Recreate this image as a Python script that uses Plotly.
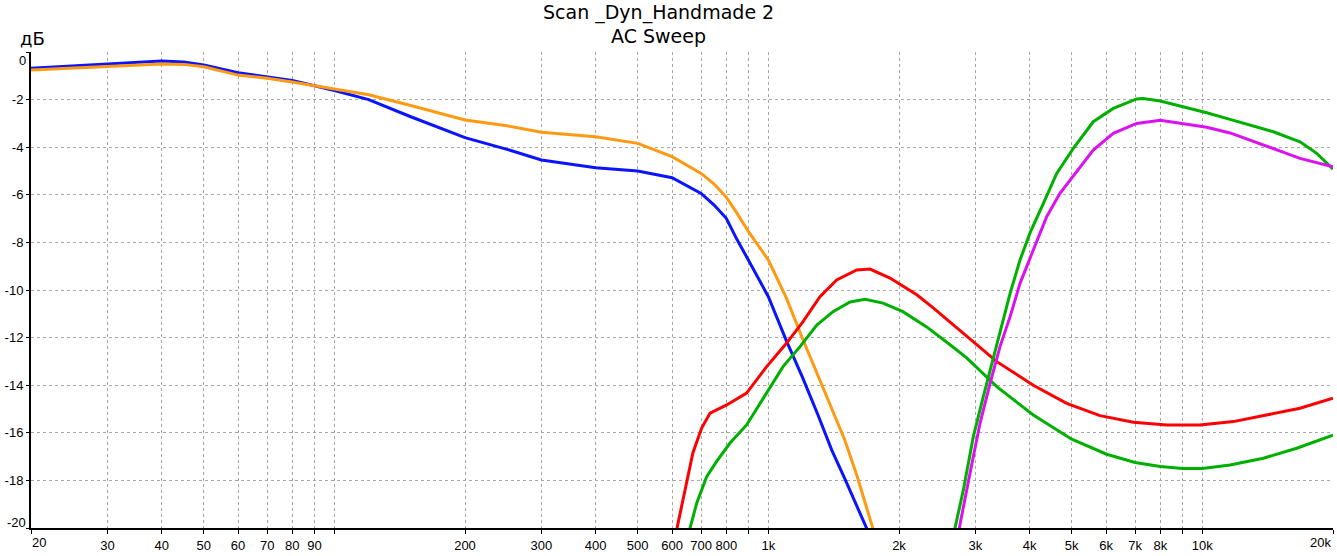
import plotly.graph_objects as go

# ---- data (frequency in Hz, level in dB) ----
low_freq = [20, 25, 30, 35, 40, 45, 50, 60, 70, 80, 90, 100, 120, 150, 200, 250, 300, 400, 500,
            600, 700, 750, 800, 845, 900, 1000, 1100, 1200, 1300, 1400, 1500, 1600, 1700, 1760]
blue_db = [-0.68, -0.58, -0.50, -0.42, -0.38, -0.42, -0.55, -0.87, -1.04, -1.20, -1.42, -1.62, -2.00,
           -2.72, -3.60, -4.09, -4.54, -4.86, -5.00, -5.28, -5.94, -6.43, -6.99, -7.85, -8.75, -10.28,
           -12.13, -13.69, -15.23, -16.73, -17.93, -19.07, -20.16, -20.8]
orange_db = [-0.76, -0.68, -0.60, -0.53, -0.50, -0.52, -0.62, -0.97, -1.10, -1.26, -1.42, -1.55, -1.80,
             -2.25, -2.86, -3.10, -3.37, -3.56, -3.84, -4.40, -5.10, -5.55, -6.10, -6.75, -7.55, -8.74,
             -10.33, -12.06, -13.56, -14.97, -16.30, -17.80, -19.40, -20.3]

red_freq = [600, 615, 636, 670, 702, 734, 802, 891, 991, 1102, 1202, 1315, 1437, 1598, 1715, 1907,
            2198, 2398, 2622, 2864, 3360, 4078, 4868, 5810, 6934, 8278, 9878, 11786, 14072, 16790, 20000]
red_db = [-21.0, -20.0, -18.8, -16.85, -15.8, -15.17, -14.83, -14.33, -13.22, -12.23, -11.33, -10.28,
          -9.58, -9.16, -9.12, -9.50, -10.20, -10.75, -11.35, -11.96, -13.01, -14.00, -14.76, -15.28,
          -15.56, -15.67, -15.67, -15.53, -15.25, -14.97, -14.55]

gmid_freq = [650, 660, 684, 721, 760, 816, 891, 991, 1081, 1183, 1293, 1409, 1543, 1670, 1837, 2042,
             2316, 2622, 2864, 3360, 4078, 5000, 6018, 7000, 8000, 9000, 10000, 11582, 13818, 16498, 20000]
gmid_db = [-20.6, -20.0, -18.95, -17.84, -17.2, -16.43, -15.67, -14.33, -13.22, -12.38, -11.47, -10.91,
           -10.50, -10.39, -10.55, -10.91, -11.55, -12.30, -12.85, -14.06, -15.25, -16.27, -16.90,
           -17.25, -17.42, -17.50, -17.50, -17.35, -17.07, -16.65, -16.10]

ghigh_freq = [2650, 2692, 2814, 2967, 3128, 3300, 3450, 3606, 3801, 4008, 4302, 4617, 5043, 5606, 6234,
              7058, 7300, 8000, 9022, 10234, 11582, 14572, 16790, 18348, 20000]
ghigh_db = [-21.0, -20.0, -18.4, -16.16, -14.48, -12.8, -11.4, -10.14, -8.74, -7.6, -6.36, -5.1, -4.05,
            -2.93, -2.37, -1.97, -1.95, -2.06, -2.30, -2.55, -2.83, -3.35, -3.77, -4.26, -4.92]

mag_freq = [2710, 2754, 2915, 3074, 3242, 3418, 3606, 3801, 4078, 4378, 4698, 5043, 5606, 6234, 7058,
            8000, 9030, 10234, 11582, 14572, 16790, 20000]
mag_db = [-21.0, -20.0, -17.7, -15.6, -13.92, -12.38, -11.12, -9.72, -8.32, -6.92, -5.94, -5.2, -4.12,
          -3.42, -3.0, -2.87, -3.0, -3.16, -3.4, -4.08, -4.47, -4.82]

x_tickvals = [20, 30, 40, 50, 60, 70, 80, 90, 100, 200, 300, 400, 500, 600, 700, 800, 900,
              1000, 2000, 3000, 4000, 5000, 6000, 7000, 8000, 9000, 10000, 20000]
x_ticktext = ["", "30", "40", "50", "60", "70", "80", "90", "", "200", "300", "400", "500", "600",
              "700", "800", "", "1k", "2k", "3k", "4k", "5k", "6k", "7k", "8k", "", "10k", ""]
x_first_label = "20"
x_last_label = "20k"
y_tickvals = [0, -2, -4, -6, -8, -10, -12, -14, -16, -18, -20]
y_ticktext = ["", "-2", "-4", "-6", "-8", "-10", "-12", "-14", "-16", "-18", ""]
y_top_label = "0"
y_bottom_label = "-20"

title_line1 = "Scan _Dyn_Handmade 2"
title_line2 = "AC Sweep"
y_unit = "дБ"

series = [
    (low_freq, blue_db, "#0A14FF"),
    (low_freq, orange_db, "#FF9912"),
    (red_freq, red_db, "#FF0000"),
    (gmid_freq, gmid_db, "#00B000"),
    (ghigh_freq, ghigh_db, "#00B000"),
    (mag_freq, mag_db, "#DC10F0"),
]

fig = go.Figure()
for fx, fy, col in series:
    fig.add_trace(go.Scatter(x=fx, y=fy, mode="lines", line=dict(color=col, width=3),
                             showlegend=False, hoverinfo="skip"))

FONT = "Liberation Sans"
TFONT = "DejaVu Sans"
fig.update_layout(
    width=1337, height=556,
    margin=dict(l=31, r=4, t=52, b=28),
    paper_bgcolor="white", plot_bgcolor="white",
    font=dict(family=FONT, size=13, color="black"),
    showlegend=False,
)
fig.update_xaxes(
    type="log", range=[1.30103, 4.30103],
    tickmode="array", tickvals=x_tickvals, ticktext=x_ticktext,
    showgrid=True, gridcolor="#A8A8A8", gridwidth=1, griddash="3px,3px",
    showline=True, linecolor="black", linewidth=2,
    ticks="outside", ticklen=4, tickcolor="black", tickwidth=1,
    tickfont=dict(family=FONT, size=13), zeroline=False,
)
fig.update_yaxes(
    range=[-20, 0],
    tickmode="array", tickvals=y_tickvals, ticktext=y_ticktext,
    showgrid=True, gridcolor="#A8A8A8", gridwidth=1, griddash="3px,3px",
    showline=True, linecolor="black", linewidth=2,
    ticks="outside", ticklen=3, tickcolor="black", tickwidth=1,
    tickfont=dict(family=FONT, size=13), zeroline=False,
)

fig.add_annotation(text=title_line1, xref="paper", yref="paper", x=0.4816, y=1.084,
                   showarrow=False, font=dict(family=TFONT, size=19), xanchor="center", yanchor="middle")
fig.add_annotation(text=title_line2, xref="paper", yref="paper", x=0.4816, y=1.0336,
                   showarrow=False, font=dict(family=TFONT, size=19), xanchor="center", yanchor="middle")
fig.add_annotation(text=y_unit, xref="paper", yref="paper", x=0.0008, y=1.029,
                   showarrow=False, font=dict(family=TFONT, size=18), xanchor="center", yanchor="middle")
fig.add_annotation(text=x_first_label, xref="paper", yref="paper", x=-0.001, y=-0.0315,
                   showarrow=False, font=dict(family=FONT, size=13), xanchor="left", yanchor="middle")
fig.add_annotation(text=x_last_label, xref="paper", yref="paper", x=1.0, y=-0.0315,
                   showarrow=False, font=dict(family=FONT, size=13), xanchor="right", yanchor="middle")
fig.add_annotation(text=y_top_label, xref="paper", yref="paper", x=-0.0025, y=0.983,
                   showarrow=False, font=dict(family=FONT, size=13), xanchor="right", yanchor="middle")
fig.add_annotation(text=y_bottom_label, xref="paper", yref="paper", x=-0.0025, y=0.0125,
                   showarrow=False, font=dict(family=FONT, size=13), xanchor="right", yanchor="middle")

fig.write_html("out.html", config={"displayModeBar": False},
               post_script="document.body.style.margin='0';document.body.style.overflow='hidden';")
